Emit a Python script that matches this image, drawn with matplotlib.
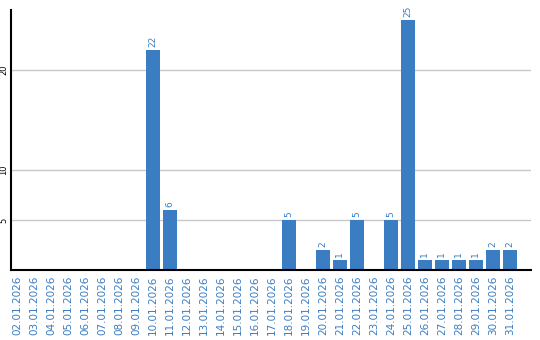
import matplotlib
matplotlib.use('Agg')
import matplotlib.pyplot as plt

dates = ['%02d.01.2026' % d for d in range(2, 32)]
counts = [0, 0, 0, 0, 0, 0, 0, 0, 22, 6,
          0, 0, 0, 0, 0, 0, 5, 0, 2, 1,
          5, 0, 5, 25, 1, 1, 1, 1, 2, 2]
yticks = [5, 10, 20]

blue = '#3a7dc2'

fig = plt.figure(figsize=(5.4, 3.4), dpi=100)
ax = fig.add_axes([11/540, 70/340, 520/540, 260/340])

x = list(range(len(dates)))
bars = ax.bar(x, counts, width=0.82, color=blue, zorder=3)

for xi, v in zip(x, counts):
    if v > 0:
        ax.annotate(str(v), (xi, v), xytext=(0, 2), textcoords='offset points',
                    rotation=90, ha='center', va='bottom', fontsize=6.5, color=blue)

ax.set_xlim(-0.35, 30.24)
ax.set_ylim(0, 26)
ax.set_yticks(yticks)
ax.set_yticklabels([str(t) for t in yticks], rotation=90, va='center', fontsize=6)
ax.set_xticks(x)
ax.set_xticklabels(dates, rotation=90, fontsize=7.5, color=blue)
ax.tick_params(axis='both', length=0)
ax.tick_params(axis='x', pad=4)
ax.tick_params(axis='y', pad=2)
ax.grid(axis='y', color='#c8c8c8', linewidth=1, zorder=0)

for s in ['top', 'right']:
    ax.spines[s].set_visible(False)
for s in ['left', 'bottom']:
    ax.spines[s].set_linewidth(1.5)
    ax.spines[s].set_zorder(4)

fig.savefig('out.png', dpi=100)
